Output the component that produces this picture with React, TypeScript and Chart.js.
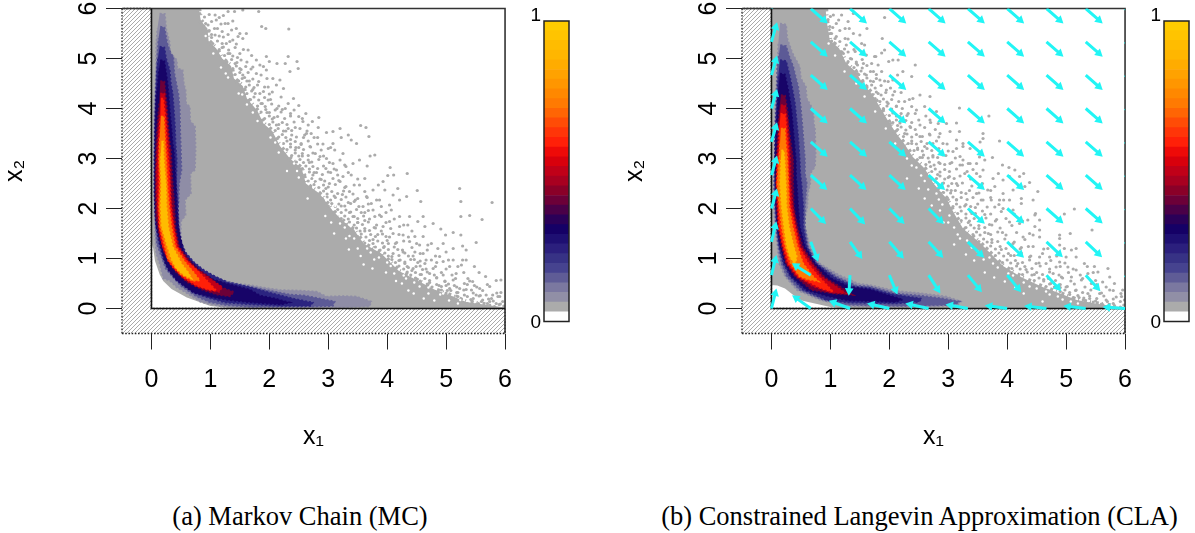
import React, { useEffect, useRef } from "react";
import { Chart, registerables } from "chart.js";

Chart.register(...registerables);

type Pair = [number, number];

const xTickValues = [0, 1, 2, 3, 4, 5, 6];
const yTickValues = [0, 1, 2, 3, 4, 5, 6];
const xTitle = "x\u2081";
const yTitle = "x\u2082";
const captionA = "(a) Markov Chain (MC)";
const captionB = "(b) Constrained Langevin Approximation (CLA)";

const colorbarColors = [
  "#FFFFFF", "#ABABAB", "#918FA6", "#7B78A0", "#5F5C96", "#46438F", "#373285", "#2B1F7D",
  "#1E0F72", "#150066", "#2A0058", "#4A0048", "#6C0038", "#8A0028", "#A80020", "#C00018",
  "#D8000C", "#EE0A08", "#FF2008", "#FF3508", "#FF4C06", "#FF6504", "#FF7A02", "#FF8800",
  "#FF9600", "#FFA200", "#FFAC00", "#FFB600", "#FFBC00", "#FFC400", "#FFCC00",
];
const bandColors = ["#8F8DA6", "#5C5A96", "#2B2480", "#170468", "#6C0038", "#C00018", "#FF2008", "#FF7A02", "#FFBC00"];

const hatchRegion: Pair[] = [[-0.5, -0.5], [6, -0.5], [6, 0], [0, 0], [0, 6], [-0.5, 6], [-0.5, -0.5]];
const boxLine: Pair[] = [[-0.5, 6], [6, 6], [6, -0.5]];
const innerLine: Pair[] = [[0, 6], [0, 0], [6, 0]];

const mcGray: Pair[] = [[0,6],[.8,6],[.84,5.75],[.95,5.6],[.97,5.35],[1.1,5.2],[1.2,5.0],[1.35,4.85],[1.4,4.6],[1.55,4.45],[1.62,4.2],[1.8,3.95],[1.9,3.7],[2.05,3.55],[2.18,3.25],[2.35,3.0],[2.55,2.8],[2.62,2.5],[2.85,2.3],[3.08,1.95],[3.25,1.75],[3.45,1.55],[3.6,1.3],[3.9,1.1],[4.2,.75],[4.45,.6],[4.8,.38],[5.1,.25],[5.34,.13],[5.7,.07],[6,.02],[6,0],[1.4,0],[1.0,.05],[.6,.22],[.34,.39],[.2,.55],[.14,.68],[.06,.95],[.03,1.2],[0,1.3]];
const mcGrayEdgeEnd = 30;

const claGray: Pair[] = [[0,6],[.92,6],[.93,5.8],[.99,5.37],[1.15,5.2],[1.27,4.9],[1.42,4.75],[1.55,4.5],[1.7,4.3],[1.84,4.03],[1.98,3.75],[2.12,3.5],[2.25,3.3],[2.4,3.03],[2.6,2.8],[2.75,2.5],[2.97,2.2],[3.1,1.9],[3.25,1.6],[3.55,1.3],[3.93,.85],[4.25,.62],[4.6,.43],[4.9,.3],[5.18,.17],[5.5,.1],[5.9,.03],[6,.01],[6,0],[1.2,0],[1,.03],[.51,.16],[.37,.27],[.23,.4],[.1,.46],[0,.47]];
const claGrayEdgeEnd = 27;

const mcDots: Pair[] = [
[5.23,2.4],[5.25,2.14],[5.78,2.12],[5.25,1.84],[5.4,1.86],[5.61,1.78],[4.34,2.7],[4.05,2.82],[4.01,2.66],[4.11,2.67],[3.55,3.66],[3.64,3.62],[3.69,3.44],[3.71,3.05],[3.79,3.07],[3.53,2.97],[3.66,2.85],[4.51,2.36],[4.57,2.14],[4.78,1.7],[4.91,1.59],[4.99,1.47],[5.12,1.52],[5.25,1.47],[5.51,1.32],[5.28,1.25],[5.34,1.17],[5.48,.84],[5.56,.72],[5.67,.64],[5.85,.56],[5.93,.57],[5.74,.44],[5.93,.32],[5.79,.27],
[.82,5.9],[1.08,5.87],[1.3,5.94],[1.55,5.97],[1.82,5.94],[1.41,5.94],[1.25,5.7],[1.3,5.7],[1.1,5.77],[.96,5.67],[1.07,5.6],[.87,5.55],[1.36,5.57],[1.87,5.64],[1.94,5.6],[2.33,5.59],[1.5,5.5],[1.61,5.5],[1.55,5.4],[1.38,5.37],[1.27,5.3],[1.64,5.17],[1.95,5.04],[2.32,5.04],[1.78,4.97],[1.84,4.87],[2.0,4.94],[2.13,4.9],[2.27,4.9],[2.47,4.94],[2.35,4.74],[2.49,4.8],[1.95,4.77],[1.72,4.83],[1.78,4.7],[2.06,4.6],[2.18,4.57],[2.24,4.4],[1.98,4.43],[1.84,4.3],[2.05,4.33],[2.41,4.2],[2.27,4.0],[2.13,4.0],[1.98,4.17],
[1.02,5.48],[1.15,5.45],[1.2,5.22],[1.33,5.1],[1.46,5.02],[1.42,4.9],[1.52,4.78],[1.58,4.62],[1.66,4.55],[1.72,4.38],[1.88,4.1],[1.96,3.92],[2.08,3.82],[2.16,3.68],[2.28,3.55],[2.36,3.38],[2.45,3.22],[2.56,3.05],[2.68,2.92],[2.76,2.72],[2.88,2.58],[2.96,2.4],[3.1,2.25],[3.22,2.05],[3.36,1.92],[3.5,1.72],[3.62,1.55],[3.76,1.38],[3.95,1.24],[4.08,1.04],[4.3,.9],[4.42,.76],[4.56,.68],[4.72,.52],[4.88,.46],[5.02,.36],[5.2,.24],[5.42,.18],[5.55,.1],
[2.57,3.74],[2.73,3.74],[2.83,3.62],[2.63,3.5],[2.71,3.5],[2.97,3.52],[3.08,3.54],[3.2,3.6],[3.34,3.47],[3.39,3.37],[3.22,3.42],[3.48,3.3],[3.08,3.3],[2.91,3.29],[2.69,3.24],[3.25,3.1],[3.11,3.17],[3.0,3.2],[3.42,2.9],[3.28,2.87],[3.2,2.97],[3.08,2.9],[2.97,3.0],[2.86,3.04],[3.39,2.67],[3.25,2.64],[3.14,2.77],[3.62,2.6],[3.53,2.47],[3.93,2.54],[3.85,2.47],[3.76,2.37],[4.18,2.4],[4.1,2.27],[3.96,2.37],[3.65,2.24],[3.5,2.2],[3.36,2.34],[4.33,2.24],[4.21,2.17],[4.04,2.07],[3.87,2.17],[3.73,2.1],[3.59,2.04],[4.07,1.97],[3.87,1.87],[3.79,1.84],[4.21,1.84],[4.38,1.84],[4.61,1.84],[4.52,1.74],[4.35,1.67],[4.64,1.64],[4.21,1.64],[4.04,1.74],[3.93,1.64],[4.47,1.44],[4.61,1.44],[4.75,1.3],[4.95,1.3],[4.86,1.2],[4.69,1.27],[4.55,1.27],[4.38,1.34],[4.27,1.47],[4.1,1.5],[5.0,1.13],[5.12,1.2],[4.89,1.04],[4.75,.97],[4.61,1.1],[4.47,1.13],[4.27,1.13],[5.12,.97],[5.28,.97],[5.34,.97],[5.26,.87],[5.06,.84],[4.95,.94],[4.78,.8],[4.64,.9],[4.49,.84],[5.17,.7],[5.37,.6],[5.45,.54],[5.31,.5],[5.12,.57],[4.95,.67],[5.57,.4],[5.43,.37],[5.23,.4],[5.06,.4],[5.68,.27],[5.51,.27],[5.31,.27],[5.91,.24],[5.77,.2],[5.62,.17],[5.96,.14],[5.85,.1],
[2.5,4.06],[2.36,3.9],[2.5,3.84],[2.22,3.98],[2.62,3.9],[2.84,3.82],[2.44,3.62],[2.58,3.42],[2.82,3.42],[2.54,3.28],[2.78,3.1],[3.04,2.72],[2.96,2.8],[3.18,2.56],[3.02,2.5],[3.3,2.44],[3.44,2.14],[3.24,2.28],[3.34,2.12],[3.56,1.92],[3.68,1.96],[3.44,1.84],[3.62,1.76],[3.78,1.62],[3.84,1.48],[3.98,1.44],[4.16,1.32],[4.02,1.3],[4.18,1.18],[4.36,1.05],[4.2,.96],[4.46,.98],[4.56,.95],[4.36,.82],[4.6,.78],[4.72,.7],[4.84,.62],[4.98,.54],[5.14,.46],[5.0,.46],[5.34,.38],[5.2,.32],[5.48,.46],[5.58,.26],[5.74,.14],
];

const mcFringe: Pair[] = [
[.9,5.83],[.98,5.88],[1.15,5.82],[1.22,5.86],[.92,5.7],[1.02,5.74],[1.18,5.69],[1.38,5.75],[.98,5.56],[1.12,5.6],[1.2,5.54],[1.44,5.6],[1.02,5.42],[1.08,5.47],[1.22,5.43],[1.3,5.48],[1.47,5.44],[1.04,5.3],[1.12,5.35],[1.2,5.3],[1.33,5.34],[1.44,5.29],[1.15,5.18],[1.22,5.23],[1.31,5.17],[1.42,5.22],[1.56,5.18],[1.24,5.06],[1.3,5.1],[1.38,5.05],[1.5,5.1],[1.7,5.06],[1.28,4.93],[1.36,4.98],[1.45,4.92],[1.52,4.97],[1.62,4.93],[1.38,4.8],[1.44,4.85],[1.5,4.8],[1.6,4.84],[1.69,4.79],[1.9,4.84],[1.42,4.68],[1.5,4.72],[1.55,4.67],[1.64,4.72],[1.86,4.67],[1.48,4.55],[1.54,4.6],[1.62,4.55],[1.72,4.59],[1.82,4.54],[1.96,4.6],[1.6,4.43],[1.66,4.47],[1.74,4.42],[1.8,4.47],[1.92,4.43],[2.12,4.47],[1.62,4.3],[1.7,4.35],[1.76,4.3],[1.9,4.34],[2.0,4.29],[1.68,4.18],[1.74,4.23],[1.82,4.17],[1.92,4.22],[2.02,4.18],[2.2,4.23],[1.8,4.05],[1.86,4.1],[1.93,4.04],[2.04,4.09],[2.16,4.05],[2.32,4.1],[1.86,3.93],[1.94,3.98],[2.0,3.92],[2.1,3.97],[2.2,3.93],[2.42,3.97],[1.92,3.8],[2.0,3.85],[2.05,3.79],[2.14,3.84],[2.26,3.8],[2.36,3.85],[2.56,3.8],[2.0,3.68],[2.06,3.73],[2.12,3.67],[2.22,3.72],[2.3,3.68],[2.42,3.73],[2.66,3.67],[2.1,3.56],[2.15,3.6],[2.24,3.55],[2.32,3.6],[2.38,3.56],[2.52,3.6],[2.64,3.55],[2.16,3.43],[2.22,3.48],[2.28,3.42],[2.38,3.47],[2.46,3.43],[2.6,3.47],[2.76,3.42],[2.24,3.3],[2.3,3.35],[2.36,3.29],[2.44,3.34],[2.54,3.3],[2.66,3.35],[2.82,3.29],[2.3,3.18],[2.36,3.23],[2.44,3.17],[2.5,3.22],[2.58,3.18],[2.7,3.23],[2.88,3.17],[3.04,3.22],[2.38,3.06],[2.44,3.11],[2.5,3.05],[2.56,3.1],[2.66,3.06],[2.74,3.11],[2.92,3.05],[2.46,2.93],[2.52,2.98],[2.58,2.92],[2.66,2.97],[2.72,2.93],[2.84,2.98],[3.02,2.92],[2.56,2.8],[2.62,2.85],[2.68,2.79],[2.74,2.84],[2.82,2.8],[2.92,2.85],[3.1,2.79],[3.3,2.84],[2.6,2.68],[2.68,2.73],[2.74,2.67],[2.8,2.72],[2.9,2.68],[3.0,2.73],[3.16,2.67],[3.34,2.72],[2.66,2.55],[2.72,2.6],[2.78,2.54],[2.86,2.59],[2.94,2.55],[3.08,2.6],[3.2,2.54],[3.5,2.59],[2.7,2.43],[2.76,2.48],[2.84,2.42],[2.92,2.47],[3.0,2.43],[3.12,2.48],[3.28,2.42],[3.44,2.47],[2.86,2.3],[2.92,2.35],[2.98,2.29],[3.06,2.34],[3.16,2.3],[3.26,2.35],[3.42,2.29],[3.62,2.34],[2.92,2.18],[2.98,2.23],[3.04,2.17],[3.12,2.22],[3.22,2.18],[3.3,2.23],[3.46,2.17],[3.66,2.22],[3.82,2.17],[3.0,2.05],[3.06,2.1],[3.12,2.04],[3.18,2.09],[3.28,2.05],[3.38,2.1],[3.52,2.04],[3.68,2.09],[3.9,2.04],[3.1,1.93],[3.16,1.98],[3.22,1.92],[3.3,1.97],[3.38,1.93],[3.48,1.98],[3.62,1.92],[3.76,1.97],[3.98,1.92],[3.22,1.8],[3.28,1.85],[3.34,1.79],[3.42,1.84],[3.5,1.8],[3.6,1.85],[3.7,1.79],[3.9,1.84],[4.12,1.79],[3.3,1.68],[3.36,1.73],[3.44,1.67],[3.5,1.72],[3.58,1.68],[3.68,1.73],[3.82,1.67],[3.98,1.72],[4.28,1.67],[3.42,1.56],[3.48,1.61],[3.54,1.55],[3.62,1.6],[3.7,1.56],[3.8,1.61],[3.9,1.55],[4.06,1.6],[4.42,1.55],[3.5,1.44],[3.56,1.49],[3.64,1.43],[3.72,1.48],[3.8,1.44],[3.92,1.49],[4.04,1.43],[4.2,1.48],[4.36,1.43],[3.62,1.31],[3.7,1.36],[3.76,1.3],[3.84,1.35],[3.92,1.31],[4.0,1.36],[4.14,1.3],[4.28,1.35],[4.5,1.3],[3.74,1.18],[3.8,1.23],[3.88,1.17],[3.94,1.22],[4.02,1.18],[4.12,1.23],[4.26,1.17],[4.42,1.22],[4.68,1.17],[3.9,1.06],[3.96,1.11],[4.02,1.05],[4.1,1.1],[4.2,1.06],[4.3,1.11],[4.44,1.05],[4.56,1.1],[4.82,1.05],[4.02,.93],[4.08,.98],[4.14,.92],[4.22,.97],[4.3,.93],[4.4,.98],[4.52,.92],[4.66,.97],[4.84,.92],[5.04,.97],[4.14,.8],[4.2,.85],[4.28,.79],[4.34,.84],[4.44,.8],[4.56,.85],[4.66,.79],[4.82,.84],[5.0,.79],[5.2,.84],[4.26,.68],[4.34,.73],[4.4,.67],[4.48,.72],[4.58,.68],[4.68,.73],[4.8,.67],[4.92,.72],[5.1,.67],[5.3,.72],[4.42,.56],[4.48,.61],[4.56,.55],[4.64,.6],[4.72,.56],[4.84,.61],[4.98,.55],[5.16,.6],[5.4,.55],[4.62,.44],[4.68,.49],[4.76,.43],[4.84,.48],[4.92,.44],[5.04,.49],[5.18,.43],[5.36,.48],[5.52,.43],[5.7,.48],[4.86,.32],[4.92,.37],[5.0,.31],[5.08,.36],[5.18,.32],[5.3,.37],[5.46,.31],[5.62,.36],[5.86,.31],[5.1,.2],[5.18,.25],[5.26,.19],[5.36,.24],[5.46,.2],[5.56,.25],[5.72,.19],[5.88,.24],[5.36,.1],[5.44,.15],[5.52,.09],[5.6,.14],[5.7,.1],[5.8,.15],[5.92,.09],[5.66,.03],[5.74,.07],[5.82,.04],[5.9,.08],[5.98,.05],
];

const mcSpecks: Pair[] = [[2.8,2.5],[2.95,2.2],[3.12,2.05],[2.68,2.62],[2.5,2.62],[2.42,2.9],[2.16,3.12],[2.02,3.42],[1.8,3.75],[1.62,4.08],[1.48,4.3],[1.3,4.62],[1.18,4.82],[1.05,5.1],[.92,5.45],[3.28,1.62],[3.36,1.45],[3.2,1.7],[3.5,1.2],[3.72,1.12],[3.78,.98],[4.0,.92],[4.12,.7],[4.32,.6],[4.25,.5],[4.55,.44],[4.7,.3],[4.9,.28],[5.05,.16],[5.2,.1],[2.95,1.85],[3.05,1.72],[3.1,1.5],[2.65,2.2],[3.35,1.18],[3.6,.88],[3.98,.72],[4.36,.36],[4.62,.2],[2.3,2.75],
[2.59,2.72],[2.47,2.75],[2.2,3.3],[2.1,3.32],[1.72,3.92],[1.54,4.28],[1.26,4.7],[3.18,1.88],[3.3,1.4],[3.44,1.4],[3.66,1.2],[3.86,1.02],[4.06,.85],[4.28,.66],[4.46,.52],[4.7,.42],[4.95,.3],[5.24,.17],[3.55,1.05],[3.75,.8],[4.15,.55],[4.45,.3],[4.8,.16]];

const claDots: Pair[] = [
[3.69,3.85],[3.59,3.5],[3.59,3.4],[3.54,3.33],[3.87,3.35],[3.75,3.02],[3.92,2.87],[4.03,2.82],[4.13,2.77],[4.28,2.7],[4.38,2.52],[4.52,2.34],[4.24,2.2],[4.44,2.17],[5.14,1.99],[4.97,1.89],[5.44,1.57],[5.07,1.5],[4.48,1.9],[4.89,1.47],[5.71,.8],[5.48,.84],[5.96,.37],
[1.92,5.82],[1.62,5.6],[1.5,5.47],[1.88,5.4],[1.92,5.17],[1.87,5.11],[1.77,5.04],[1.58,5.27],[2.44,4.87],[2.15,4.97],[2.06,4.97],[1.99,4.94],[2.23,4.74],[2.14,4.67],[2.38,4.64],[2.69,4.24],[3.19,4.01],[3.14,3.71],
[1.05,5.87],[1.19,5.87],[1.39,5.9],[1.3,5.74],[1.1,5.7],[.99,5.64],[1.25,5.6],[1.39,5.5],[1.25,5.4],[1.1,5.44],[1.27,5.27],[1.53,5.3],[1.42,5.14],[1.61,5.07],[1.75,5.04],[1.7,4.9],[1.81,4.87],[1.56,4.9],[1.44,4.9],[1.87,4.74],[1.73,4.74],[1.61,4.67],[1.98,4.54],[1.84,4.57],[1.73,4.54],[2.06,4.57],[2.23,4.44],[2.09,4.34],[1.95,4.37],[1.81,4.3],[2.4,4.2],[2.52,4.27],[2.26,4.14],[2.12,4.04],[1.98,4.1],[2.6,4.04],[2.46,3.97],[2.8,3.94],[2.32,3.9],[2.18,3.84],[2.97,3.7],[2.83,3.7],[2.69,3.77],[2.52,3.67],[2.35,3.64],[3.03,3.54],[3.19,3.54],[2.86,3.5],[2.69,3.47],[2.52,3.44],[3.14,3.37],[2.91,3.3],[2.74,3.3],[2.6,3.24],[3.25,3.24],[3.08,3.14],[2.91,3.07],[2.74,3.03],[3.2,3.04],[3.34,2.9],[3.03,2.9],[3.2,2.87],
[3.25,3.3],[3.37,3.2],[3.53,3.03],[3.62,2.97],[3.48,2.9],[3.37,2.9],[3.25,2.97],[3.59,2.77],[3.48,2.7],[3.28,2.7],[3.85,2.7],[3.76,2.6],[4.04,2.64],[4.21,2.64],[3.93,2.57],[3.79,2.44],[3.67,2.37],[3.93,2.3],[4.1,2.37],[4.3,2.44],[4.04,2.17],[3.87,2.17],[3.73,2.17],[3.59,2.17],[3.48,2.3],[4.24,2.1],[4.1,1.97],[3.93,2.0],[3.79,2.03],[4.47,1.87],[4.55,1.77],[4.47,1.64],[4.35,1.77],[4.21,1.7],[4.04,1.73],[4.38,1.5],[4.27,1.43],[4.55,1.57],[4.55,1.43],[4.89,1.4],[4.89,1.27],[4.69,1.2],[4.55,1.03],[4.72,1.03],[4.97,1.2],[5.09,1.17],[5.17,1.2],[5.0,1.03],[5.17,1.03],[4.89,.93],[5.31,.9],[5.54,.73],[5.37,.7],[5.17,.77],[5.03,.83],[4.83,.83],[4.66,.9],[4.49,.9],[4.38,1.03],[5.74,.63],[5.62,.53],[5.82,.5],[5.43,.5],[5.26,.57],[5.09,.63],[4.92,.63],[4.78,.7],[5.74,.37],[5.57,.3],[5.37,.3],[5.17,.37],[5.0,.43],[5.85,.23],[5.68,.17],[5.46,.13],[5.29,.17],[5.99,.17],[5.93,.3],
[1.02,5.5],[1.08,5.3],[1.22,5.1],[1.34,5.0],[1.48,4.68],[1.62,4.45],[1.76,4.2],[1.9,3.98],[2.02,3.7],[2.14,3.66],[2.26,3.5],[2.38,3.3],[2.48,3.18],[2.56,3.02],[2.7,2.84],[2.82,2.68],[2.9,2.5],[3.05,2.36],[3.14,2.18],[3.28,2.05],[3.4,1.9],[3.34,1.72],[3.52,1.6],[3.68,1.5],[3.74,1.32],[3.9,1.18],[4.06,1.06],[4.18,.9],[4.32,.78],[4.46,.68],[4.62,.58],[4.74,.5],[4.9,.42],[5.06,.28],[5.22,.22],[5.4,.2],[5.62,.08],[3.62,1.88],[3.92,1.52],[4.1,1.3],[3.82,1.78],[4.24,1.22],[4.36,1.24],[3.7,1.68],[3.46,2.02],[3.14,2.5],[3.3,2.3],[3.0,2.62],[2.86,2.9],
];

const claFringe: Pair[] = [
[.96,5.78],[1.0,5.84],[1.14,5.77],[.98,5.58],[1.04,5.62],[1.16,5.56],[1.32,5.6],[1.02,5.35],[1.08,5.4],[1.16,5.34],[1.3,5.39],[1.18,5.14],[1.24,5.19],[1.3,5.13],[1.4,5.18],[1.3,4.94],[1.36,4.99],[1.44,4.93],[1.54,4.98],[1.4,4.82],[1.46,4.87],[1.54,4.81],[1.62,4.86],[1.46,4.7],[1.52,4.75],[1.58,4.69],[1.68,4.74],[1.78,4.68],[1.55,4.56],[1.62,4.61],[1.68,4.55],[1.78,4.6],[1.92,4.55],[1.62,4.42],[1.7,4.47],[1.76,4.41],[1.86,4.46],[2.02,4.41],[1.72,4.28],[1.78,4.33],[1.86,4.27],[1.94,4.32],[2.06,4.27],[2.2,4.32],[1.84,4.14],[1.9,4.19],[1.96,4.13],[2.04,4.18],[2.16,4.14],[2.34,4.18],[1.9,4.0],[1.96,4.05],[2.04,3.99],[2.12,4.05],[2.22,4.0],[2.38,4.04],[2.0,3.86],[2.06,3.91],[2.12,3.85],[2.2,3.9],[2.3,3.86],[2.44,3.9],[2.62,3.85],[2.06,3.72],[2.12,3.77],[2.18,3.71],[2.28,3.76],[2.38,3.72],[2.5,3.77],[2.7,3.72],[2.14,3.58],[2.2,3.63],[2.28,3.57],[2.36,3.62],[2.44,3.58],[2.6,3.62],[2.78,3.58],[2.24,3.44],[2.3,3.49],[2.38,3.43],[2.46,3.48],[2.56,3.44],[2.68,3.49],[2.84,3.43],[2.32,3.3],[2.38,3.35],[2.46,3.29],[2.54,3.34],[2.64,3.3],[2.8,3.35],[2.98,3.29],[2.42,3.16],[2.48,3.21],[2.56,3.15],[2.64,3.2],[2.72,3.16],[2.84,3.2],[3.0,3.15],[3.14,3.2],[2.52,3.02],[2.58,3.07],[2.66,3.01],[2.74,3.06],[2.82,3.02],[2.96,3.06],[3.12,3.01],[2.62,2.88],[2.68,2.93],[2.76,2.87],[2.84,2.92],[2.94,2.88],[3.06,2.92],[3.24,2.87],[2.72,2.74],[2.78,2.79],[2.86,2.73],[2.94,2.78],[3.02,2.74],[3.14,2.79],[3.32,2.74],[3.42,2.78],[2.8,2.6],[2.86,2.65],[2.94,2.59],[3.02,2.64],[3.1,2.6],[3.2,2.65],[3.38,2.59],[3.54,2.64],[2.84,2.46],[2.92,2.51],[3.0,2.45],[3.06,2.5],[3.16,2.46],[3.24,2.51],[3.4,2.45],[3.58,2.5],[2.92,2.32],[2.98,2.37],[3.04,2.31],[3.12,2.36],[3.22,2.32],[3.36,2.36],[3.52,2.31],[3.72,2.36],[3.0,2.18],[3.08,2.23],[3.14,2.17],[3.22,2.22],[3.32,2.18],[3.42,2.22],[3.56,2.17],[3.72,2.22],[3.94,2.17],[3.08,2.04],[3.14,2.09],[3.2,2.03],[3.3,2.08],[3.38,2.04],[3.5,2.09],[3.66,2.03],[3.86,2.08],[3.16,1.9],[3.22,1.95],[3.3,1.89],[3.38,1.94],[3.46,1.9],[3.58,1.95],[3.72,1.89],[3.9,1.94],[4.12,1.89],[3.22,1.76],[3.3,1.81],[3.36,1.75],[3.44,1.8],[3.54,1.76],[3.64,1.81],[3.8,1.75],[3.98,1.8],[4.26,1.75],[3.3,1.62],[3.38,1.67],[3.44,1.61],[3.52,1.66],[3.62,1.62],[3.74,1.67],[3.88,1.61],[4.08,1.66],[3.42,1.48],[3.48,1.53],[3.54,1.47],[3.62,1.52],[3.72,1.48],[3.84,1.53],[3.98,1.47],[4.16,1.52],[4.44,1.47],[3.52,1.34],[3.6,1.39],[3.66,1.33],[3.74,1.38],[3.84,1.34],[3.96,1.39],[4.12,1.33],[4.3,1.38],[3.66,1.2],[3.72,1.25],[3.8,1.19],[3.88,1.24],[3.98,1.2],[4.08,1.25],[4.22,1.19],[4.44,1.24],[4.62,1.19],[3.8,1.06],[3.86,1.11],[3.94,1.05],[4.02,1.1],[4.12,1.06],[4.24,1.11],[4.4,1.05],[4.6,1.1],[4.84,1.05],[3.92,.92],[4.0,.97],[4.06,.91],[4.14,.96],[4.26,.92],[4.38,.97],[4.54,.91],[4.74,.96],[4.98,.91],[4.08,.8],[4.16,.85],[4.22,.79],[4.3,.84],[4.42,.8],[4.56,.85],[4.72,.79],[4.9,.84],[5.12,.79],[5.36,.84],[4.26,.68],[4.34,.73],[4.42,.67],[4.5,.72],[4.6,.68],[4.72,.73],[4.88,.67],[5.04,.72],[5.24,.67],[5.46,.72],[4.46,.56],[4.54,.61],[4.62,.55],[4.7,.6],[4.82,.56],[4.94,.61],[5.08,.55],[5.28,.6],[5.5,.56],[4.66,.44],[4.72,.49],[4.8,.43],[4.9,.48],[5.02,.44],[5.14,.49],[5.32,.43],[5.52,.48],[5.68,.43],[4.9,.34],[4.98,.37],[5.06,.32],[5.16,.36],[5.28,.32],[5.42,.37],[5.6,.31],[5.8,.36],[5.12,.22],[5.2,.26],[5.3,.21],[5.4,.25],[5.52,.2],[5.64,.25],[5.8,.19],[5.94,.24],[5.4,.1],[5.5,.15],[5.6,.09],[5.7,.14],[5.8,.1],[5.92,.14],[5.72,.04],[5.82,.06],[5.92,.03],[5.98,.07],
];

const claSpecks: Pair[] = [[2.1,3.3],[1.94,3.6],[1.76,3.94],[1.58,4.24],[1.44,4.5],[1.24,4.74],[1.08,5.06],[.97,5.3],[2.3,3.0],[2.46,2.82],[2.6,2.55],[2.8,2.3],[2.9,2.08],[3.02,1.86],[3.1,1.62],[2.72,2.06],[2.6,2.2],[3.32,1.36],[3.5,1.14],[3.7,1.02],[3.84,.82],[4.1,.66],[4.28,.52],[4.5,.4],[4.72,.28],[4.94,.18],[5.2,.1],[2.92,1.72],[3.2,1.4],[3.44,.96],[3.62,.72],[3.96,.54],[4.28,.3],[4.6,.14],[2.5,2.4],[2.3,2.6],
[2.54,2.66],[2.38,2.86],[2.66,2.38],[2.84,2.18],[3.0,1.72],[2.86,1.96],[3.16,1.48],[3.4,1.22],[3.6,.98],[3.76,.9],[4.02,.7],[4.38,.44],[4.66,.34],[4.86,.24],[5.08,.14],[3.1,1.28],[3.3,1.08],[3.78,.62],[4.14,.42]];

const mcBand1: Pair[] = [[.14,5.9],[.23,5.89],[.25,5.6],[.31,5.32],[.32,5.12],[.43,4.97],[.44,4.8],[.53,4.77],[.55,4.5],[.58,4.37],[.59,4.1],[.65,4.04],[.66,3.75],[.74,3.64],[.75,3.2],[.74,2.77],[.66,2.7],[.67,2.3],[.57,2.17],[.58,1.87],[.5,1.74],[.5,1.4],[.51,1.17],[.58,1.05],[.65,.97],[.78,.83],[.94,.7],[1.1,.6],[1.27,.54],[1.45,.5],[1.67,.47],[1.9,.42],[2.18,.37],[2.5,.36],[2.8,.34],[2.97,.24],[3.25,.25],[3.48,.24],[3.73,.14],[3.7,.04],[3.2,.02],[2.2,.02],[1.5,.02],[1.21,.04],[.94,.1],[.82,.14],[.54,.35],[.43,.42],[.31,.56],[.2,.6],[.145,.87],[.08,1.1],[.06,1.44],[.05,2],[.04,2.6],[.04,3.5],[.05,4.2],[.07,4.6],[.08,5.3],[.1,5.6]];
const mcBand2: Pair[] = [[.15,5.64],[.22,5.62],[.27,5.3],[.33,5.1],[.37,5.04],[.39,4.7],[.44,4.4],[.46,4.28],[.48,4.0],[.49,3.5],[.5,3.17],[.51,2.77],[.47,2.5],[.46,2.1],[.42,1.87],[.44,1.5],[.47,1.25],[.55,1.1],[.66,.95],[.83,.8],[1.0,.68],[1.27,.54],[1.61,.45],[1.95,.37],[2.35,.28],[2.6,.26],[2.86,.2],[3.11,.14],[3.08,.05],[2.5,.03],[1.7,.03],[1.25,.07],[.98,.13],[.75,.25],[.5,.45],[.36,.63],[.24,.8],[.17,1.03],[.09,1.3],[.07,1.7],[.06,2.3],[.06,3],[.06,3.7],[.08,4.3],[.09,4.9],[.12,5.4]];
const mcBand3: Pair[] = [[.14,5.24],[.22,5.22],[.25,5.0],[.31,4.77],[.33,4.5],[.36,4.3],[.38,4.0],[.4,3.64],[.41,3.3],[.43,2.97],[.42,2.5],[.45,2.1],[.46,1.7],[.48,1.4],[.58,1.12],[.72,.93],[.9,.76],[1.1,.63],[1.3,.52],[1.67,.43],[2.0,.32],[2.4,.2],[2.74,.12],[2.7,.05],[2.2,.05],[1.7,.08],[1.25,.12],[1.0,.2],[.75,.3],[.55,.45],[.4,.62],[.28,.8],[.2,1.0],[.12,1.35],[.07,1.75],[.05,2.3],[.05,3],[.06,3.6],[.07,4.2],[.09,4.75],[.11,5.0]];
const mcBand4: Pair[] = [[.15,4.97],[.22,4.95],[.27,4.55],[.29,4.3],[.31,3.97],[.34,3.6],[.36,3.3],[.38,3.17],[.4,2.8],[.415,2.5],[.43,2.04],[.455,1.64],[.54,1.17],[.6,1.03],[.71,.9],[.88,.7],[1.05,.58],[1.27,.5],[1.67,.38],[1.84,.26],[2.1,.2],[2.35,.12],[2.2,.08],[1.7,.12],[1.3,.17],[1.05,.22],[.71,.32],[.43,.56],[.3,.75],[.23,.92],[.155,1.26],[.08,1.64],[.06,2.04],[.055,2.5],[.06,3.17],[.065,3.7],[.08,4.2],[.11,4.55],[.13,4.8]];
const mcBand5: Pair[] = [[.15,4.55],[.22,4.54],[.26,4.1],[.29,3.6],[.31,3.33],[.33,3.17],[.355,2.6],[.39,2.04],[.41,1.6],[.47,1.24],[.65,.95],[.78,.8],[.95,.66],[1.2,.42],[1.4,.33],[1.33,.24],[1.1,.28],[.85,.38],[.6,.53],[.42,.72],[.32,.9],[.22,1.1],[.14,1.4],[.08,1.8],[.07,2.2],[.07,2.8],[.08,3.3],[.1,3.7],[.13,4.1]];
const mcBand6: Pair[] = [[.15,4.3],[.22,4.3],[.25,3.9],[.27,3.6],[.3,3.2],[.32,2.7],[.335,2.2],[.36,1.9],[.39,1.6],[.45,1.24],[.6,.98],[.73,.8],[.87,.7],[1.05,.55],[1.2,.43],[1.15,.33],[.98,.36],[.75,.45],[.55,.6],[.4,.8],[.28,1.0],[.19,1.24],[.14,1.5],[.11,1.85],[.09,2.2],[.085,2.7],[.1,3.2],[.12,3.6],[.14,3.9]];
const mcBand7: Pair[] = [[.16,4.2],[.2,4.2],[.24,3.75],[.26,3.3],[.29,2.9],[.31,2.5],[.325,2.04],[.37,1.64],[.43,1.24],[.6,.95],[.72,.83],[.88,.64],[1.1,.36],[.95,.38],[.75,.47],[.55,.62],[.38,.8],[.285,.95],[.2,1.24],[.13,1.64],[.115,2.04],[.12,2.5],[.12,3],[.13,3.4],[.15,3.8]];
const mcBand8: Pair[] = [[.16,3.84],[.21,3.84],[.23,3.4],[.25,3.0],[.27,2.5],[.3,2.04],[.34,1.64],[.4,1.24],[.57,.93],[.72,.72],[.82,.56],[.7,.55],[.5,.68],[.38,.85],[.28,1.0],[.23,1.24],[.145,1.64],[.13,2.04],[.145,2.5],[.13,3.0],[.14,3.4]];
const mcBand9: Pair[] = [[.17,3.34],[.2,3.34],[.21,3.0],[.23,2.7],[.246,2.5],[.257,2.04],[.286,1.64],[.36,1.24],[.51,.9],[.625,.72],[.68,.6],[.56,.66],[.42,.8],[.34,.98],[.27,1.24],[.17,1.64],[.155,2.04],[.165,2.5],[.15,2.9],[.16,3.1]];

const claBand1: Pair[] = [[.145,5.7],[.25,5.68],[.27,5.4],[.3,5.3],[.36,5.1],[.48,4.84],[.5,4.6],[.585,4.44],[.6,4.2],[.71,3.97],[.72,3.7],[.74,3.6],[.75,3.1],[.74,2.84],[.66,2.7],[.66,2.5],[.62,2.3],[.61,2.04],[.57,1.8],[.57,1.64],[.65,1.24],[.82,.9],[1.13,.68],[1.47,.5],[1.67,.47],[2.12,.35],[2.52,.31],[2.97,.24],[3.22,.14],[3.15,.06],[2.5,.03],[1.8,.03],[1.3,.05],[.82,.17],[.43,.37],[.23,.64],[.13,.9],[.1,1.24],[.06,1.64],[.04,2.04],[.04,2.5],[.06,3],[.06,3.6],[.06,3.97],[.08,4.44],[.1,4.84],[.116,5.3]];
const claBand2: Pair[] = [[.15,5.27],[.25,5.25],[.3,5.05],[.37,4.84],[.42,4.6],[.455,4.44],[.5,4.0],[.53,3.6],[.57,2.97],[.57,2.7],[.6,2.5],[.57,2.04],[.57,1.64],[.62,1.24],[.78,.9],[1.105,.64],[1.44,.46],[1.67,.44],[2.12,.3],[2.5,.26],[2.91,.2],[3.19,.14],[3.1,.07],[2.3,.05],[1.67,.06],[1.2,.08],[.88,.17],[.48,.37],[.26,.64],[.17,.9],[.116,1.24],[.077,1.64],[.06,2.04],[.043,2.5],[.06,3],[.06,3.6],[.08,4.0],[.09,4.44],[.1,4.84],[.13,5.1]];
const claBand3: Pair[] = [[.145,4.97],[.25,4.95],[.314,4.64],[.37,4.3],[.4,4.1],[.455,3.44],[.48,2.97],[.49,2.7],[.51,2.5],[.54,2.04],[.54,1.64],[.6,1.24],[.76,.9],[1.075,.62],[1.39,.44],[1.67,.41],[2.0,.3],[2.3,.24],[2.55,.2],[2.5,.13],[2.1,.1],[1.67,.11],[1.3,.12],[.935,.17],[.54,.37],[.314,.64],[.2,.9],[.133,1.24],[.088,1.64],[.07,2.04],[.06,2.5],[.06,3.17],[.06,3.44],[.09,4.1],[.116,4.64]];
const claBand4: Pair[] = [[.145,4.7],[.23,4.68],[.286,4.37],[.34,3.97],[.38,3.44],[.415,2.97],[.42,2.6],[.43,2.5],[.455,2.04],[.48,1.64],[.57,1.24],[.74,.9],[1.02,.6],[1.33,.43],[1.67,.38],[1.95,.28],[2.23,.18],[2.1,.13],[1.67,.15],[1.3,.16],[.94,.25],[.6,.37],[.34,.64],[.23,.9],[.145,1.24],[.1,1.64],[.077,2.04],[.07,2.5],[.06,2.97],[.077,3.44],[.1,3.97],[.116,4.37]];
const claBand5: Pair[] = [[.16,4.27],[.23,4.26],[.27,3.97],[.314,3.44],[.37,2.97],[.37,2.5],[.38,2.04],[.44,1.64],[.53,1.24],[.71,.9],[.91,.62],[1.19,.42],[1.39,.27],[1.1,.29],[.68,.37],[.4,.64],[.246,.9],[.17,1.24],[.11,1.64],[.088,2.04],[.077,2.5],[.09,2.97],[.1,3.44],[.133,3.97]];
const claBand6: Pair[] = [[.16,4.07],[.23,4.06],[.27,3.77],[.3,3.3],[.32,2.97],[.325,2.5],[.36,2.04],[.415,1.64],[.495,1.24],[.68,.9],[.85,.64],[1.1,.44],[1.27,.3],[1.0,.32],[.71,.44],[.43,.64],[.26,.9],[.19,1.24],[.116,1.64],[.1,2.04],[.088,2.5],[.09,2.97],[.116,3.3],[.133,3.77]];
const claBand7: Pair[] = [[.155,3.9],[.235,3.88],[.257,3.57],[.286,3.17],[.29,2.8],[.3,2.5],[.325,2.04],[.4,1.64],[.47,1.24],[.625,.9],[.8,.64],[.95,.46],[1.05,.33],[.85,.4],[.6,.55],[.455,.64],[.286,.9],[.2,1.24],[.13,1.64],[.116,2.04],[.088,2.5],[.1,2.9],[.133,3.17],[.133,3.57]];
const claBand8: Pair[] = [[.16,3.6],[.23,3.6],[.245,3.3],[.27,2.97],[.286,2.5],[.3,2.04],[.36,1.64],[.44,1.24],[.54,.9],[.71,.64],[.8,.54],[.62,.58],[.48,.64],[.325,.9],[.23,1.24],[.17,1.64],[.133,2.04],[.1,2.5],[.116,2.8],[.133,3.0],[.145,3.3]];
const claBand9: Pair[] = [[.17,3.17],[.21,3.15],[.225,2.97],[.246,2.5],[.257,2.04],[.3,1.64],[.38,1.24],[.43,1.04],[.4,.87],[.31,1.04],[.26,1.24],[.21,1.64],[.17,2.04],[.145,2.5],[.16,2.97]];

const arrowXs = [0, .667, 1.333, 2, 2.667, 3.333, 4, 4.667, 5.333, 6];
const arrowYs = [6, 5.333, 4.667, 4, 3.333, 2.667, 2, 1.333, .667, 0];
const arrowDX = [
  [.09,.28,.28,.28,.28,.28,.28,.28,.28,.28],
  [.09,.28,.28,.28,.28,.28,.28,.28,.28,.28],
  [.09,.28,.28,.28,.28,.28,.28,.28,.28,.28],
  [.09,.28,.28,.28,.28,.28,.28,.28,.28,.28],
  [.09,.28,.28,.28,.28,.28,.28,.28,.28,.28],
  [.09,.27,.27,.27,.27,.28,.28,.28,.28,.28],
  [.09,.25,.25,.25,.25,.28,.28,.28,.28,.28],
  [.08,.12,.2,.24,.24,.27,.28,.27,.27,.27],
  [.08,-.31,-.02,.13,.19,.23,.23,.24,.24,.24],
  [.08,-.31,-.35,-.37,-.39,-.37,-.37,-.37,-.37,-.37],
];
const arrowDY = [
  [.37,-.29,-.29,-.29,-.29,-.29,-.29,-.29,-.29,-.29],
  [.37,-.29,-.29,-.29,-.29,-.29,-.29,-.29,-.29,-.29],
  [.37,-.29,-.29,-.29,-.29,-.29,-.29,-.29,-.29,-.29],
  [.37,-.29,-.29,-.29,-.29,-.29,-.29,-.29,-.29,-.29],
  [.37,-.29,-.29,-.29,-.29,-.29,-.29,-.29,-.29,-.29],
  [.37,-.29,-.29,-.29,-.29,-.29,-.29,-.29,-.29,-.29],
  [.38,-.3,-.31,-.3,-.3,-.3,-.29,-.29,-.29,-.29],
  [.39,-.38,-.33,-.33,-.31,-.31,-.31,-.3,-.3,-.3],
  [.38,.23,-.39,-.37,-.35,-.33,-.33,-.31,-.31,-.31],
  [.38,.26,.15,.1,.1,.08,.06,.05,.05,.03],
];

const mcBands = [mcBand1, mcBand2, mcBand3, mcBand4, mcBand5, mcBand6, mcBand7, mcBand8, mcBand9];
const claBands = [claBand1, claBand2, claBand3, claBand4, claBand5, claBand6, claBand7, claBand8, claBand9];

const pts = (p: Pair[]) => p.map(([x, y]) => ({ x, y }));

function hatchPattern() {
  const c = document.createElement("canvas");
  c.width = 4;
  c.height = 4;
  const g = c.getContext("2d")!;
  g.fillStyle = "#fff";
  g.fillRect(0, 0, 4, 4);
  g.strokeStyle = "#aaaaaa";
  g.lineWidth = 1;
  g.beginPath();
  g.moveTo(-1, 5); g.lineTo(5, -1);
  g.moveTo(-1, 1); g.lineTo(1, -1);
  g.moveTo(3, 5); g.lineTo(5, 3);
  g.stroke();
  return g.createPattern(c, "repeat")!;
}

const poly = (p: Pair[], color: string) => ({
  data: pts(p), showLine: true, fill: "shape" as const, backgroundColor: color,
  borderWidth: 0, pointRadius: 0, tension: 0,
});
const band = (p: Pair[], color: string) => ({
  ...poly(p, color), borderWidth: 1.6, borderColor: color, borderDash: [2, 2],
});
const dots = (p: Pair[], color: string, r: number) => ({
  data: pts(p), showLine: false, pointRadius: r, pointHoverRadius: r,
  pointBackgroundColor: color, pointBorderWidth: 0, fill: false,
});
const stroke = (p: Pair[], color: string, w: number) => ({
  data: pts(p), showLine: true, fill: false, borderColor: color, borderWidth: w,
  pointRadius: 0, clip: 6, tension: 0,
});

const rotatedYTicks = {
  id: "rotatedYTicks",
  afterDraw(chart: any) {
    const { ctx, scales } = chart;
    ctx.save();
    ctx.font = "25px 'Liberation Sans'";
    ctx.fillStyle = "#000";
    ctx.textAlign = "center";
    ctx.textBaseline = "alphabetic";
    yTickValues.forEach((v) => {
      ctx.save();
      ctx.translate(96, scales.y.getPixelForValue(v));
      ctx.rotate(-Math.PI / 2);
      ctx.fillText(String(v), 0, 0);
      ctx.restore();
    });
    ctx.restore();
  },
};

function Panel({ left, gray, edgeEnd, scatter, fringe, specks, bands, arrows }: {
  left: number; gray: Pair[]; edgeEnd: number; scatter: Pair[]; fringe: Pair[]; specks: Pair[]; bands: Pair[][]; arrows: boolean;
}) {
  const ref = useRef<HTMLCanvasElement>(null);
  useEffect(() => {
    const layers: any[] = [
      { ...poly(hatchRegion, "#000"), backgroundColor: hatchPattern(), borderWidth: 1.3, borderColor: "#222", borderDash: [1.6, 1.6], clip: 6 },
      poly(gray, "#ABABAB"),
      { ...stroke(gray.slice(1, edgeEnd), "#ABABAB", 5), borderDash: [3, 3, 1, 5], clip: 0 },
      dots(scatter, "#ABABAB", 1.6),
      dots(fringe, "#ABABAB", 1.6),
      dots(specks, "#FFFFFF", 1.2),
      ...bands.map((b, i) => band(b, bandColors[i])),
      stroke(boxLine, "#333", 1.6),
      stroke(innerLine, "#111", 1.6),
    ];
    if (arrows) {
      const shafts: any[] = [];
      const heads: any[] = [];
      const angles: number[] = [];
      arrowYs.forEach((y, r) => arrowXs.forEach((x, c) => {
        const dx = arrowDX[r][c];
        const dy = arrowDY[r][c];
        shafts.push({ x, y }, { x: x + dx * 0.8, y: y + dy * 0.8 }, { x: null, y: null });
        heads.push({ x: x + dx * 0.8, y: y + dy * 0.8 });
        angles.push((Math.atan2(dx * 59, dy * 50) * 180) / Math.PI);
      }));
      layers.push({ data: shafts, showLine: true, fill: false, borderColor: "#22F5F5", borderWidth: 3, pointRadius: 0, spanGaps: false });
      layers.push({ data: heads, showLine: false, pointStyle: "triangle", pointRadius: 5, pointBackgroundColor: "#22F5F5", pointBorderWidth: 0, pointRotation: angles, fill: false });
    }
    const datasets = layers.map((d, i) => ({ ...d, order: layers.length - i }));
    const chart = new Chart(ref.current!, {
      type: "scatter",
      data: { datasets },
      plugins: [rotatedYTicks],
      options: {
        animation: false,
        responsive: false,
        devicePixelRatio: 1,
        layout: { padding: { top: 8.5, right: 15, left: 0, bottom: 0 } },
        plugins: { legend: { display: false }, tooltip: { enabled: false } },
        scales: {
          x: {
            type: "linear", min: -0.5, max: 6,
            afterBuildTicks: (s: any) => { s.ticks = xTickValues.map((value) => ({ value })); },
            afterFit: (s: any) => { s.height = 136.5; },
            grid: { drawOnChartArea: false, drawTicks: true, tickLength: 16, color: "#222", lineWidth: 1 },
            border: { display: false },
            ticks: { font: { size: 25, family: "'Liberation Sans'" }, color: "#000", padding: 16, autoSkip: false, maxRotation: 0, callback: (v: any) => String(v) },
            title: { display: true, text: xTitle, color: "#000", font: { size: 25, family: "'Liberation Sans'" }, padding: { top: 0, bottom: 18 } },
          },
          y: {
            type: "linear", min: -0.5, max: 6,
            afterBuildTicks: (s: any) => { s.ticks = yTickValues.map((value) => ({ value })); },
            afterFit: (s: any) => { s.width = 122; },
            grid: { drawOnChartArea: false, drawTicks: true, tickLength: 16, color: "#222", lineWidth: 1 },
            border: { display: false },
            ticks: { display: false },
            title: { display: true, text: yTitle, color: "#000", font: { size: 25, family: "'Liberation Sans'" }, padding: { top: 0, bottom: 0 } },
          },
        },
      } as any,
    });
    return () => chart.destroy();
  }, []);
  return <canvas ref={ref} width={528} height={470} style={{ position: "absolute", left, top: 0, width: 528, height: 470 }} />;
}

const colorbarBox = {
  id: "colorbarBox",
  afterDraw(chart: any) {
    const { ctx, chartArea: a } = chart;
    ctx.save();
    ctx.strokeStyle = "#222";
    ctx.lineWidth = 1.5;
    ctx.strokeRect(a.left, a.top, a.right - a.left, a.bottom - a.top);
    ctx.font = "19px 'Liberation Sans'";
    ctx.fillStyle = "#000";
    ctx.textAlign = "right";
    ctx.textBaseline = "middle";
    ctx.fillText("1", a.left - 3, a.top - 5);
    ctx.fillText("0", a.left - 3, a.bottom + 1);
    ctx.restore();
  },
};

function Colorbar({ left }: { left: number }) {
  const ref = useRef<HTMLCanvasElement>(null);
  useEffect(() => {
    const n = colorbarColors.length;
    const chart = new Chart(ref.current!, {
      type: "bar",
      data: {
        labels: [""],
        datasets: colorbarColors.map((color, i) => ({
          data: [[i / n, (i + 1) / n]] as any,
          backgroundColor: color,
          barPercentage: 1,
          categoryPercentage: 1,
          borderWidth: 0,
        })),
      },
      plugins: [colorbarBox],
      options: {
        animation: false,
        responsive: false,
        devicePixelRatio: 1,
        layout: { padding: { left: 24, right: 6, top: 21, bottom: 18.5 } },
        plugins: { legend: { display: false }, tooltip: { enabled: false } },
        scales: {
          x: { stacked: true, display: false },
          y: { min: 0, max: 1, display: false },
        },
      } as any,
    });
    return () => chart.destroy();
  }, []);
  return <canvas ref={ref} width={55} height={340} style={{ position: "absolute", left, top: 0, width: 55, height: 340 }} />;
}

const captionStyle = (center: number): React.CSSProperties => ({
  position: "absolute", left: center - 300, width: 600, top: 502, textAlign: "center",
  fontFamily: "'Liberation Serif'", fontSize: 26.5, lineHeight: "28px", color: "#000", whiteSpace: "nowrap",
});

export default function App() {
  return (
    <div style={{ position: "absolute", left: 0, top: 0, width: 1195, height: 533, overflow: "hidden", background: "#fff" }}>
      <Panel left={0} gray={mcGray} edgeEnd={mcGrayEdgeEnd} scatter={mcDots} fringe={mcFringe} specks={mcSpecks} bands={mcBands} arrows={false} />
      <Colorbar left={520} />
      <Panel left={620} gray={claGray} edgeEnd={claGrayEdgeEnd} scatter={claDots} fringe={claFringe} specks={claSpecks} bands={claBands} arrows={true} />
      <Colorbar left={1140} />
      <div style={captionStyle(300)}>{captionA}</div>
      <div style={captionStyle(919.5)}>{captionB}</div>
    </div>
  );
}
